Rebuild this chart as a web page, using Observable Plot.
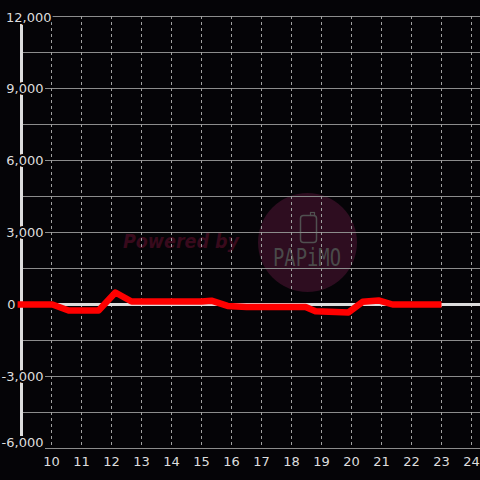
<!DOCTYPE html>
<html>
<head>
<meta charset="utf-8">
<script src="https://cdn.jsdelivr.net/npm/d3@7"></script>
<script src="https://cdn.jsdelivr.net/npm/@observablehq/plot@0.6"></script>
<style>
  html, body { margin: 0; padding: 0; background: #050407; }
  #chart { width: 480px; height: 480px; overflow: hidden; }
  svg { display: block; }
</style>
</head>
<body>
<div id="chart"></div>
<script>
// Data
const hours = [8.87, 10.03, 10.57, 11.57, 12.13, 12.67, 15.0, 15.33, 15.87, 16.5, 18.47, 18.8, 19.9, 20.37, 20.9, 21.37, 23.0];
const values = [0, 0, -250, -250, 500, 125, 125, 160, -60, -100, -100, -280, -330, 110, 170, 0, 0];
const xTicks = [10, 11, 12, 13, 14, 15, 16, 17, 18, 19, 20, 21, 22, 23, 24];
const yTicks = [-6000, -3000, 0, 3000, 6000, 9000, 12000];
const yMinor = [-4500, -1500, 1500, 4500, 7500, 10500];

const bg = "#050407";
const series = hours.map((h, i) => ({h, v: values[i]}));
const locale = d3.formatLocale({decimal: ".", thousands: ",", grouping: [3], currency: ["$", ""], minus: "-"});
const fmt = locale.format(",");
const regularLabels = yTicks.filter(d => d !== 0 && d !== 12000 && d !== -6000);
const labelStyle = {textAnchor: "end", lineAnchor: "middle", fill: "#dddddd", stroke: bg, strokeWidth: 4, fontSize: 13};

const chart = Plot.plot({
  width: 480,
  height: 480,
  marginTop: 16,
  marginBottom: 32,
  marginLeft: 21,
  marginRight: 0,
  style: {background: bg, fontFamily: "DejaVu Sans", fontSize: "13px", color: "#ddd"},
  x: {domain: [9, 24.3], axis: null},
  y: {domain: [-6000, 12000], axis: null},
  marks: [
    // minor horizontal grid
    Plot.ruleY(yMinor, {stroke: "#8c8c8c", strokeWidth: 1, insetLeft: 1}),
    // major horizontal grid (with tick stub)
    Plot.ruleY(yTicks.filter(d => d !== 0), {stroke: "#8c8c8c", strokeWidth: 1, insetLeft: 24}),
    // vertical dashed grid
    Plot.ruleX(xTicks, {stroke: "#a0a0a0", strokeWidth: 1, strokeDasharray: "3,3", insetBottom: 2}),
    // zero line
    Plot.ruleY([0], {stroke: "#dddddd", strokeWidth: 3, insetLeft: 1}),
    // y axis line
    Plot.ruleX([9], {stroke: "#dddddd", strokeWidth: 3, insetTop: 8, insetBottom: 12}),
    // y labels
    Plot.text(regularLabels, {x: () => 9, y: d => d, text: d => fmt(d), dx: 22, ...labelStyle}),
    Plot.text([12000], {x: () => 9, y: d => d, text: d => fmt(d), dx: 30, dy: 1, ...labelStyle}),
    Plot.text([-6000], {x: () => 9, y: d => d, text: d => fmt(d), dx: 22, dy: -6, ...labelStyle}),
    Plot.text([0], {x: () => 9, y: d => d, text: d => fmt(d), textAnchor: "end", dx: -6, lineAnchor: "middle", fill: "#dddddd", fontSize: 13}),
    // x labels
    Plot.text(xTicks, {x: d => d, frameAnchor: "bottom", text: d => String(d), lineAnchor: "middle", dy: 13, fill: "#dddddd", fontSize: 13}),
    // the series
    Plot.line(series, {x: "h", y: "v", stroke: "#ff0000", strokeWidth: 6.5, strokeLinejoin: "round", strokeLinecap: "butt"})
  ]
});

// Watermark (background, behind grid)
const svg = d3.select(chart);
const wm = svg.insert("g", ":first-child").attr("class", "watermark").attr("text-anchor", "start");
wm.append("circle").attr("cx", 307.5).attr("cy", 242.5).attr("r", 49.5).attr("fill", "#2e0d20");
wm.append("text").attr("x", 123).attr("y", 248).attr("text-anchor", "start").attr("font-family", "DejaVu Sans")
  .attr("font-size", 19).attr("font-weight", "bold").attr("font-style", "italic")
  .attr("fill", "#380a1c").attr("textLength", 116).attr("lengthAdjust", "spacingAndGlyphs").text("Powered by");
wm.append("rect").attr("x", 300.5).attr("y", 215.5).attr("width", 16).attr("height", 27).attr("rx", 3)
  .attr("fill", "none").attr("stroke", "#505050").attr("stroke-width", 1.5);
wm.append("rect").attr("x", 310.5).attr("y", 212.5).attr("width", 4).attr("height", 3)
  .attr("fill", "none").attr("stroke", "#505050").attr("stroke-width", 1.2);
wm.append("text").attr("x", 273).attr("y", 266).attr("text-anchor", "start").attr("font-family", "DejaVu Sans Mono")
  .attr("font-size", 24).attr("fill", "#4a4a4a")
  .attr("textLength", 68).attr("lengthAdjust", "spacingAndGlyphs").text("PAPiMO");
// background rect first
svg.insert("rect", ":first-child").attr("width", 480).attr("height", 480).attr("fill", bg);

document.getElementById("chart").appendChild(chart);
</script>
</body>
</html>
